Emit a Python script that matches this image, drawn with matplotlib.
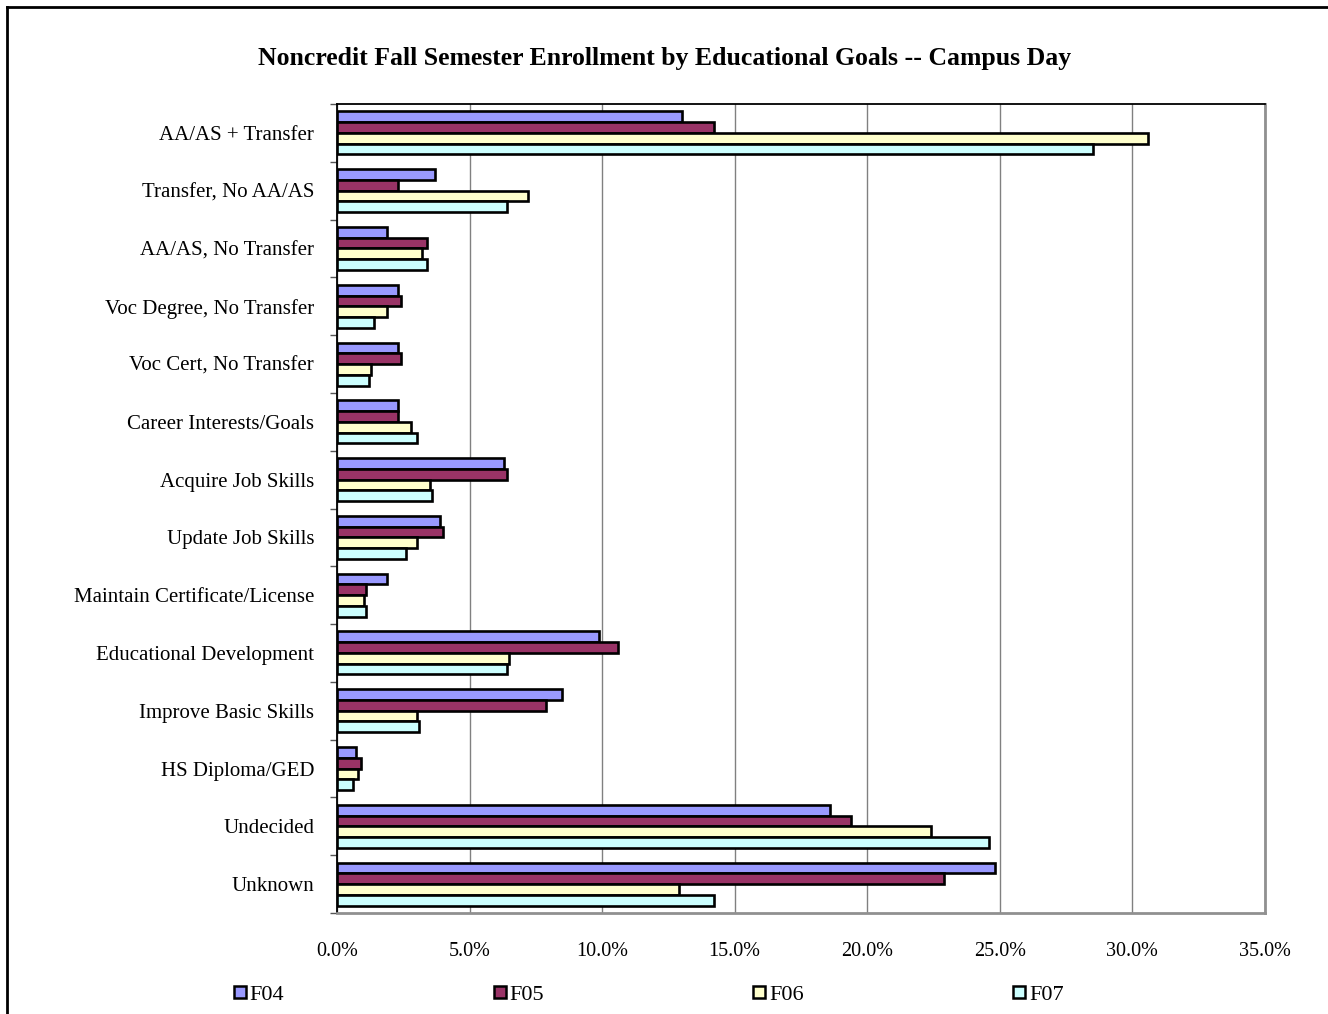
import numpy as np
import matplotlib.pyplot as plt
from matplotlib.lines import Line2D
from matplotlib.ticker import FuncFormatter, MultipleLocator

plt.rcParams['font.family'] = ['Liberation Serif', 'DejaVu Serif']

goals = ["AA/AS + Transfer", "Transfer, No AA/AS", "AA/AS, No Transfer",
         "Voc Degree, No Transfer", "Voc Cert, No Transfer", "Career Interests/Goals",
         "Acquire Job Skills", "Update Job Skills", "Maintain Certificate/License",
         "Educational Development", "Improve Basic Skills", "HS Diploma/GED",
         "Undecided", "Unknown"]
terms = ["F04", "F05", "F06", "F07"]

f04 = [13.0, 3.7, 1.9, 2.3, 2.3, 2.3, 6.3, 3.9, 1.9, 9.9, 8.5, 0.7, 18.6, 24.8]
f05 = [14.2, 2.3, 3.4, 2.4, 2.4, 2.3, 6.4, 4.0, 1.1, 10.6, 7.9, 0.9, 19.4, 22.9]
f06 = [30.6, 7.2, 3.2, 1.9, 1.3, 2.8, 3.5, 3.0, 1.0, 6.5, 3.0, 0.8, 22.4, 12.9]
f07 = [28.5, 6.4, 3.4, 1.4, 1.2, 3.0, 3.6, 2.6, 1.1, 6.4, 3.1, 0.6, 24.6, 14.2]
series = [f04, f05, f06, f07]
colors = ["#9999FF", "#993366", "#FFFFCC", "#CCFFFF"]

fig = plt.figure(figsize=(13.28, 10.14), dpi=100)
ax = fig.add_axes([337/1328, 1 - 913/1014, (1265-337)/1328, (913-104)/1014])

y = np.arange(len(goals))
h = 0.186
for i, (vals, c) in enumerate(zip(series, colors)):
    ax.barh(y - 1.5*h + i*h, vals, height=h, color=c, edgecolor='black',
            linewidth=1.9, label=terms[i], zorder=3)

ax.set_xlim(0, 35)
ax.set_ylim(len(goals) - 0.5, -0.5)
ax.xaxis.set_major_locator(MultipleLocator(5))
ax.xaxis.set_major_formatter(FuncFormatter(lambda v, p: f"{v:.1f}%"))
ax.grid(axis='x', color='#808080', linewidth=1, zorder=0)
ax.tick_params(axis='x', length=0, pad=21, labelsize=14.5)

ax.set_yticks(y)
ax.set_yticklabels(goals)
ax.set_yticks(np.arange(len(goals) + 1) - 0.5, minor=True)
ax.tick_params(axis='y', which='major', length=0, pad=16.5, labelsize=15)
ax.tick_params(axis='y', which='minor', length=5, width=1, color='#555555')

for s in ['left', 'top']:
    ax.spines[s].set_color('black')
    ax.spines[s].set_linewidth(1.3)
for s in ['right', 'bottom']:
    ax.spines[s].set_color('#909090')
    ax.spines[s].set_linewidth(2)

fig.text(665/1328, 1 - 58/1014,
         "Noncredit Fall Semester Enrollment by Educational Goals -- Campus Day",
         ha='center', va='center', fontsize=18.5, fontweight='bold')

handles = [Line2D([], [], marker='s', linestyle='none', markersize=9,
                  markerfacecolor=c, markeredgecolor='black', markeredgewidth=1.8)
           for c in colors]
fig.legend(handles, terms, loc='center', ncol=4, mode='expand', frameon=False,
           bbox_to_anchor=(222/1328, 1 - 1007/1014, (1075-222)/1328, 24/1014),
           borderpad=0, handlelength=0.6, handletextpad=0.15, fontsize=16)

# outer chart border (top and left edges visible)
fig.add_artist(Line2D([7/1328, 1.0], [1 - 7/1014, 1 - 7/1014], color='black', linewidth=2))
fig.add_artist(Line2D([7/1328, 7/1328], [0.0, 1 - 7/1014], color='black', linewidth=2))

fig.savefig("out.png", dpi=100, facecolor='white')
